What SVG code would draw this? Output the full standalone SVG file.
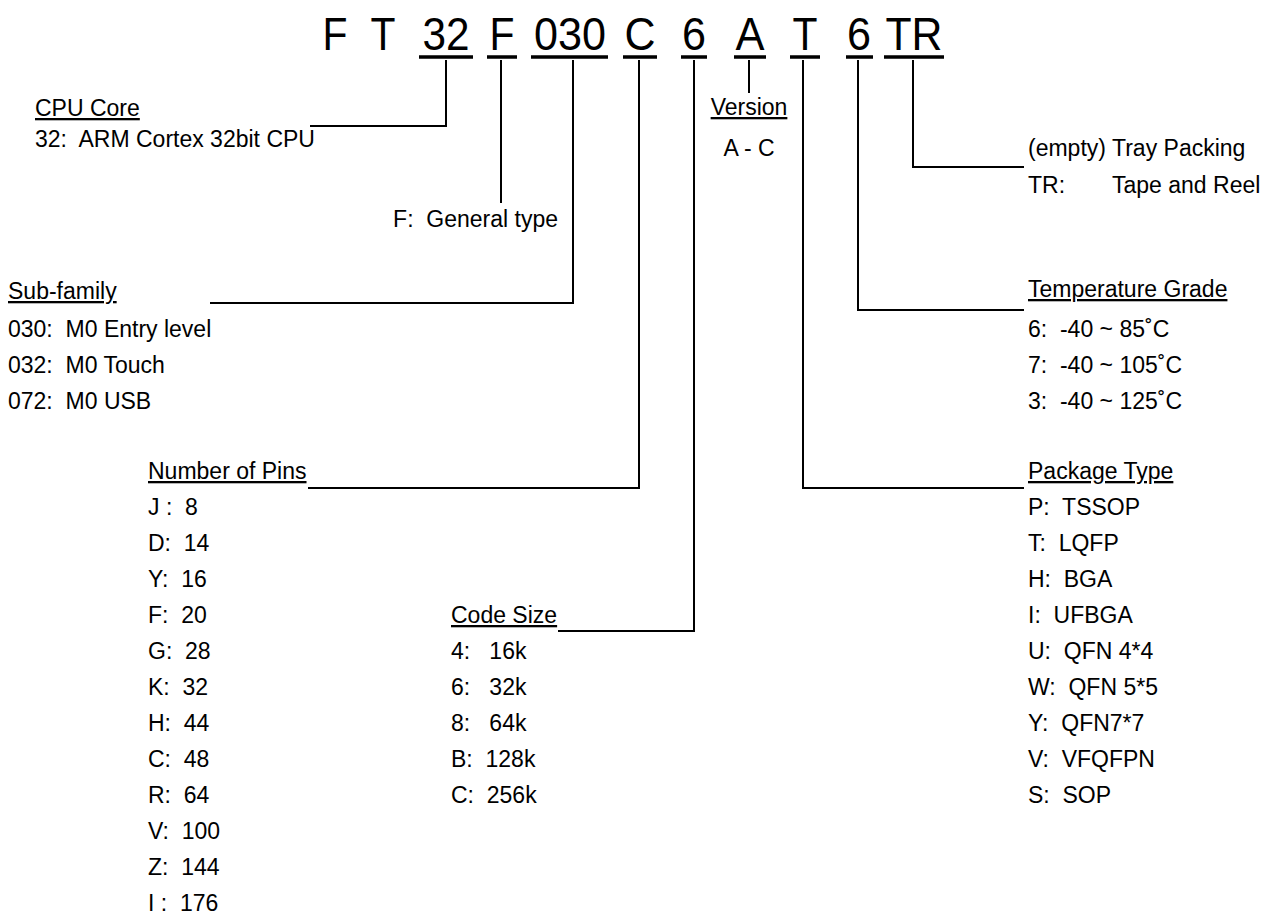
<svg xmlns="http://www.w3.org/2000/svg" width="1285" height="916" viewBox="0 0 1285 916">
<style>
text{font-family:"Liberation Sans",Arial,sans-serif;fill:#000;white-space:pre}
.t{font-size:23px}
.h{font-size:23px;text-decoration:underline}
.big{font-size:47px;text-anchor:middle}
.ul{stroke:#000;stroke-width:3.5;fill:none}
.c{stroke:#000;stroke-width:2;fill:none}
</style>
<rect width="1285" height="916" fill="#fff"/>
<g id="title">
<text class="big" x="335" y="50" textLength="25" lengthAdjust="spacingAndGlyphs">F</text>
<text class="big" x="383" y="50" textLength="25" lengthAdjust="spacingAndGlyphs">T</text>
<text class="big" x="446" y="50" textLength="47" lengthAdjust="spacingAndGlyphs">32</text>
<text class="big" x="502" y="50" textLength="25" lengthAdjust="spacingAndGlyphs">F</text>
<text class="big" x="570" y="50" textLength="72" lengthAdjust="spacingAndGlyphs">030</text>
<text class="big" x="640" y="50" textLength="31" lengthAdjust="spacingAndGlyphs">C</text>
<text class="big" x="694" y="50" textLength="24" lengthAdjust="spacingAndGlyphs">6</text>
<text class="big" x="750" y="50" textLength="29" lengthAdjust="spacingAndGlyphs">A</text>
<text class="big" x="805" y="50" textLength="25" lengthAdjust="spacingAndGlyphs">T</text>
<text class="big" x="859" y="50" textLength="24" lengthAdjust="spacingAndGlyphs">6</text>
<text class="big" x="914" y="50" textLength="57" lengthAdjust="spacingAndGlyphs">TR</text>
<path class="ul" d="M419 57H473M487 57H517M531 57H608M623 57H657M681 57H707M734 57H766M790 57H820M846 57H873M884 57H944"/>
</g>
<g id="connectors">
<path class="c" d="M446 60V126H310"/>
<path class="c" d="M501 60V203"/>
<path class="c" d="M573 60V303H210"/>
<path class="c" d="M639 60V488H308"/>
<path class="c" d="M694 60V631H558"/>
<path class="c" d="M749 60V93"/>
<path class="c" d="M803 60V488H1024"/>
<path class="c" d="M858 60V310H1024"/>
<path class="c" d="M913 60V167H1024"/>
</g>
<g id="cpu-core">
<text class="h" x="35" y="116">CPU Core</text>
<text class="t" x="35" y="147">32:  ARM Cortex 32bit CPU</text>
</g>
<g id="general-type">
<text class="t" x="558" y="227" text-anchor="end">F:  General type</text>
</g>
<g id="sub-family">
<text class="h" x="8" y="299">Sub-family</text>
<text class="t" x="8" y="337">030:  M0 Entry level</text>
<text class="t" x="8" y="373">032:  M0 Touch</text>
<text class="t" x="8" y="409">072:  M0 USB</text>
</g>
<g id="number-of-pins">
<text class="h" x="148" y="479">Number of Pins</text>
<text class="t" x="148" y="515">J :  8</text>
<text class="t" x="148" y="551">D:  14</text>
<text class="t" x="148" y="587">Y:  16</text>
<text class="t" x="148" y="623">F:  20</text>
<text class="t" x="148" y="659">G:  28</text>
<text class="t" x="148" y="695">K:  32</text>
<text class="t" x="148" y="731">H:  44</text>
<text class="t" x="148" y="767">C:  48</text>
<text class="t" x="148" y="803">R:  64</text>
<text class="t" x="148" y="839">V:  100</text>
<text class="t" x="148" y="875">Z:  144</text>
<text class="t" x="148" y="911">I :  176</text>
</g>
<g id="code-size">
<text class="h" x="451" y="623">Code Size</text>
<text class="t" x="451" y="659">4:   16k</text>
<text class="t" x="451" y="695">6:   32k</text>
<text class="t" x="451" y="731">8:   64k</text>
<text class="t" x="451" y="767">B:  128k</text>
<text class="t" x="451" y="803">C:  256k</text>
</g>
<g id="version">
<text class="h" x="749" y="115" text-anchor="middle">Version</text>
<text class="t" x="749" y="156" text-anchor="middle">A - C</text>
</g>
<g id="packing">
<text class="t" x="1028" y="156">(empty)</text>
<text class="t" x="1112" y="156">Tray Packing</text>
<text class="t" x="1028" y="193">TR:</text>
<text class="t" x="1112" y="193">Tape and Reel</text>
</g>
<g id="temperature-grade">
<text class="h" x="1028" y="297">Temperature Grade</text>
<text class="t" x="1028" y="337">6:  -40 ~ 85˚C</text>
<text class="t" x="1028" y="373">7:  -40 ~ 105˚C</text>
<text class="t" x="1028" y="409">3:  -40 ~ 125˚C</text>
</g>
<g id="package-type">
<text class="h" x="1028" y="479">Package Type</text>
<text class="t" x="1028" y="515">P:  TSSOP</text>
<text class="t" x="1028" y="551">T:  LQFP</text>
<text class="t" x="1028" y="587">H:  BGA</text>
<text class="t" x="1028" y="623">I:  UFBGA</text>
<text class="t" x="1028" y="659">U:  QFN 4*4</text>
<text class="t" x="1028" y="695">W:  QFN 5*5</text>
<text class="t" x="1028" y="731">Y:  QFN7*7</text>
<text class="t" x="1028" y="767">V:  VFQFPN</text>
<text class="t" x="1028" y="803">S:  SOP</text>
</g>
</svg>
